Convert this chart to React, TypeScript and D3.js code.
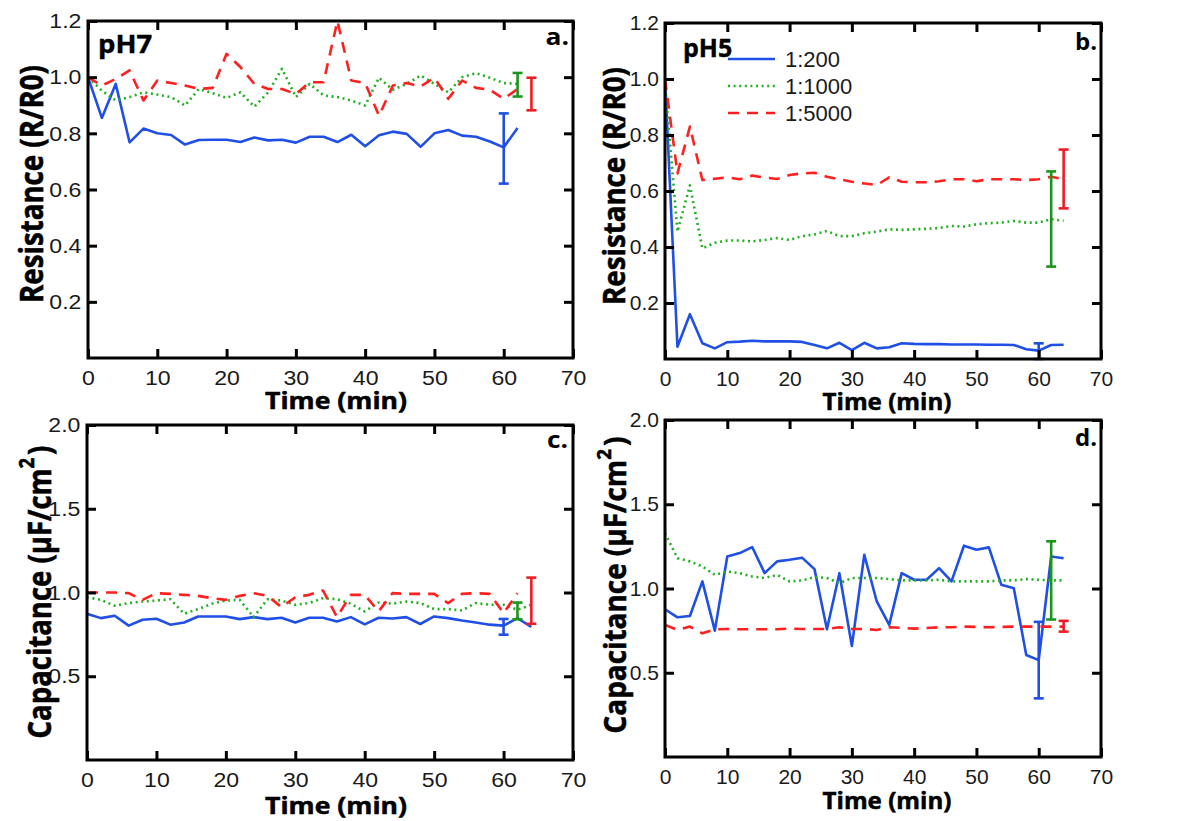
import React, { useEffect, useRef } from "react";
import * as d3 from "d3";

// sampling times (min)
const timesTo62 = [0, 2, 4, 6, 8, 10, 12, 14, 16, 18, 20, 22, 24, 26, 28, 30, 32, 34, 36, 38, 40, 42, 44, 46, 48, 50, 52, 54, 56, 58, 60, 62];
const timesTo64 = [0, 2, 4, 6, 8, 10, 12, 14, 16, 18, 20, 22, 24, 26, 28, 30, 32, 34, 36, 38, 40, 42, 44, 46, 48, 50, 52, 54, 56, 58, 60, 62, 64];

const seriesNames = ["1:200", "1:1000", "1:5000"];
const xTicks = [0, 10, 20, 30, 40, 50, 60, 70];
const resistanceTicks = [0.2, 0.4, 0.6, 0.8, 1.0, 1.2];
const capacitanceTicks = [0.5, 1.0, 1.5, 2.0];

// a. pH7 resistance (R/R0)
const resPH7_200 = [1.0, 0.855, 0.976, 0.768, 0.817, 0.8, 0.794, 0.76, 0.776, 0.777, 0.777, 0.769, 0.785, 0.775, 0.777, 0.767, 0.788, 0.788, 0.769, 0.795, 0.754, 0.793, 0.806, 0.798, 0.752, 0.8, 0.812, 0.792, 0.788, 0.771, 0.75, 0.819];
const resPH7_1000 = [1.0, 0.952, 0.917, 0.929, 0.946, 0.938, 0.929, 0.899, 0.958, 0.943, 0.926, 0.946, 0.895, 0.946, 1.03, 0.929, 0.976, 0.935, 0.929, 0.917, 0.899, 0.998, 0.955, 0.976, 1.006, 0.976, 0.946, 1.0, 1.014, 0.998, 0.979, 0.976];
const resPH7_5000 = [1.0, 0.97, 0.994, 1.024, 0.917, 0.988, 0.979, 0.97, 0.958, 0.962, 1.083, 1.036, 0.976, 0.958, 0.958, 0.94, 0.982, 0.982, 1.2, 0.988, 0.979, 0.863, 0.97, 0.979, 0.967, 0.998, 0.923, 0.988, 0.962, 0.955, 0.923, 0.958];

// b. pH5 resistance (R/R0)
const resPH5_200 = [1.0, 0.044, 0.16, 0.056, 0.038, 0.06, 0.062, 0.065, 0.063, 0.063, 0.063, 0.061, 0.05, 0.038, 0.058, 0.032, 0.058, 0.038, 0.042, 0.056, 0.054, 0.053, 0.053, 0.052, 0.052, 0.052, 0.051, 0.051, 0.05, 0.035, 0.03, 0.05, 0.051];
const resPH5_1000 = [0.985, 0.455, 0.62, 0.395, 0.415, 0.423, 0.423, 0.42, 0.425, 0.432, 0.425, 0.439, 0.445, 0.457, 0.439, 0.439, 0.449, 0.455, 0.463, 0.461, 0.463, 0.465, 0.468, 0.475, 0.473, 0.481, 0.485, 0.487, 0.493, 0.487, 0.487, 0.499, 0.494];
const resPH5_5000 = [1.0, 0.663, 0.83, 0.639, 0.644, 0.649, 0.642, 0.655, 0.648, 0.643, 0.657, 0.663, 0.665, 0.651, 0.642, 0.633, 0.627, 0.621, 0.649, 0.633, 0.631, 0.631, 0.635, 0.642, 0.642, 0.635, 0.642, 0.642, 0.642, 0.639, 0.642, 0.651, 0.642];

// c. pH7 capacitance (uF/cm2)
const capPH7_200 = [0.873, 0.847, 0.861, 0.802, 0.837, 0.843, 0.808, 0.821, 0.857, 0.857, 0.857, 0.841, 0.853, 0.841, 0.849, 0.821, 0.849, 0.849, 0.827, 0.853, 0.81, 0.849, 0.845, 0.853, 0.812, 0.857, 0.847, 0.833, 0.821, 0.808, 0.802, 0.847, 0.794];
const capPH7_1000 = [0.972, 0.956, 0.921, 0.937, 0.946, 0.952, 0.96, 0.873, 0.901, 0.933, 0.952, 0.956, 0.853, 0.96, 0.952, 0.927, 0.937, 0.966, 0.96, 0.933, 0.887, 0.94, 0.933, 0.946, 0.937, 0.901, 0.901, 0.893, 0.937, 0.927, 0.927, 0.897, 0.927];
const capPH7_5000 = [1.0, 1.0, 1.0, 0.996, 0.956, 0.996, 0.992, 0.986, 0.98, 0.966, 0.956, 0.98, 0.996, 0.98, 0.913, 0.972, 0.986, 1.012, 0.853, 0.986, 0.986, 0.887, 0.996, 0.992, 0.992, 0.992, 0.937, 0.992, 0.996, 0.992, 0.877, 0.996];

// d. pH5 capacitance (uF/cm2)
const capPH5_200 = [0.877, 0.829, 0.837, 1.042, 0.75, 1.19, 1.21, 1.246, 1.091, 1.161, 1.171, 1.183, 1.115, 0.758, 1.091, 0.659, 1.2, 0.923, 0.784, 1.091, 1.052, 1.052, 1.121, 1.042, 1.254, 1.23, 1.244, 1.022, 1.002, 0.605, 0.575, 1.19, 1.18];
const capPH5_1000 = [1.329, 1.18, 1.161, 1.131, 1.081, 1.101, 1.091, 1.071, 1.062, 1.081, 1.042, 1.048, 1.067, 1.062, 1.032, 1.062, 1.062, 1.062, 1.056, 1.048, 1.048, 1.048, 1.052, 1.042, 1.042, 1.042, 1.042, 1.048, 1.048, 1.056, 1.052, 1.048, 1.048];
const capPH5_5000 = [0.784, 0.754, 0.774, 0.734, 0.758, 0.76, 0.758, 0.758, 0.758, 0.758, 0.762, 0.76, 0.76, 0.76, 0.77, 0.76, 0.76, 0.754, 0.77, 0.766, 0.762, 0.766, 0.77, 0.77, 0.774, 0.772, 0.77, 0.772, 0.774, 0.774, 0.774, 0.774, 0.774];

// error bars, drawn at offset times so they don't overlap
const errTimes = [60, 62, 64];
const errMeanA = [0.746, 0.973, 0.94];
const errSdA = [0.125, 0.042, 0.058];
const errMeanB = [0.028, 0.5, 0.643];
const errSdB = [0.028, 0.17, 0.105];
const errMeanC = [0.795, 0.89, 0.951];
const errSdC = [0.047, 0.05, 0.138];
const errMeanD = [0.575, 1.048, 0.776];
const errSdD = [0.227, 0.232, 0.032];

const lineColors = ["#1f4fe6", "#22b022", "#ff1f1f"];
const errColors = ["#1f4fe6", "#1a961a", "#ee1c25"];
const dashes = [null, "2,3.6", "11,8"];

const NUM_FONT = "'Liberation Sans', Arial, sans-serif";
const BOLD_FONT = "'Open Sans', sans-serif";

const panels = [
	{
		box: { left: 88, right: 573, top: 21, bottom: 358 }, yMax: 1.2, yTicks: resistanceTicks, sx: 1.1,
		series: [[timesTo62, resPH7_200], [timesTo62, resPH7_1000], [timesTo62, resPH7_5000]],
		errMean: errMeanA, errSd: errSdA, letter: "a.", letterPos: [569, 45], tag: "pH7", tagPos: [98, 53],
		ylabel: "res", yTitle: { x: 43, y: 184, len: 238 }, xTitle: { x: 336, y: 409, len: 142 },
	},
	{
		box: { left: 665, right: 1101, top: 23, bottom: 359 }, yMax: 1.2, yTicks: resistanceTicks, sx: 1.0,
		series: [[timesTo64, resPH5_200], [timesTo64, resPH5_1000], [timesTo64, resPH5_5000]],
		errMean: errMeanB, errSd: errSdB, letter: "b.", letterPos: [1097, 50], tag: "pH5", tagPos: [683, 57],
		ylabel: "res", yTitle: { x: 625, y: 186, len: 238 }, xTitle: { x: 887, y: 410, len: 129 },
	},
	{
		box: { left: 87, right: 573, top: 425, bottom: 760 }, yMax: 2.0, yTicks: capacitanceTicks, sx: 1.1,
		series: [[timesTo64, capPH7_200], [timesTo64, capPH7_1000], [timesTo62, capPH7_5000]],
		errMean: errMeanC, errSd: errSdC, letter: "c.", letterPos: [568, 448], tag: null, tagPos: null,
		ylabel: "cap", yTitle: { x: 51, y: 592, len: 290 }, xTitle: { x: 336, y: 814, len: 142 },
	},
	{
		box: { left: 665, right: 1101, top: 420, bottom: 757 }, yMax: 2.0, yTicks: capacitanceTicks, sx: 1.0,
		series: [[timesTo64, capPH5_200], [timesTo64, capPH5_1000], [timesTo64, capPH5_5000]],
		errMean: errMeanD, errSd: errSdD, letter: "d.", letterPos: [1097, 446], tag: null, tagPos: null,
		ylabel: "cap", yTitle: { x: 626, y: 585, len: 294 }, xTitle: { x: 887, y: 809, len: 129 },
	},
];

const styleAxis = (sel, sx) => {
	sel.select(".domain").remove();
	sel.selectAll(".tick line").attr("stroke", "#000").attr("stroke-width", 3);
	sel.selectAll(".tick text")
		.attr("font-family", NUM_FONT)
		.attr("font-size", 21)
		.attr("fill", "#1a1a1a")
		.attr("transform", `scale(${sx},1)`);
};

const drawPanel = (svg, p, i) => {
	const { left, right, top, bottom } = p.box;
	const x = d3.scaleLinear().domain([0, 70]).range([left, right]);
	const y = d3.scaleLinear().domain([0, p.yMax]).range([bottom, top]);
	const g = svg.append("g");

	const clipId = `clip-${i}`;
	g.append("clipPath").attr("id", clipId)
		.append("rect").attr("x", left).attr("y", top).attr("width", right - left).attr("height", bottom - top);

	// data lines
	p.series.forEach(([times, values], k) => {
		const line = d3.line().x((d, j) => x(times[j])).y((d) => y(d));
		g.append("path")
			.datum(values)
			.attr("d", line)
			.attr("fill", "none")
			.attr("stroke", lineColors[k])
			.attr("stroke-width", 2.6)
			.attr("stroke-dasharray", dashes[k])
			.attr("stroke-linejoin", "round")
			.attr("clip-path", `url(#${clipId})`);
	});

	// error bars
	p.errMean.forEach((m, k) => {
		const cx = x(errTimes[k]);
		const y1 = y(m + p.errSd[k]);
		const y2 = y(m - p.errSd[k]);
		const eb = g.append("g").attr("stroke", errColors[k]).attr("stroke-width", 2.6);
		eb.append("line").attr("x1", cx).attr("x2", cx).attr("y1", y1).attr("y2", y2);
		eb.append("line").attr("x1", cx - 5).attr("x2", cx + 5).attr("y1", y1).attr("y2", y1);
		eb.append("line").attr("x1", cx - 5).attr("x2", cx + 5).attr("y1", y2).attr("y2", y2);
	});

	// axes, ticks point inward on all four sides
	g.append("g").attr("transform", `translate(0,${bottom})`)
		.call(d3.axisBottom(x).tickValues(xTicks).tickSize(-9).tickPadding(12).tickFormat(d3.format("d")))
		.call((s) => styleAxis(s, p.sx));
	g.append("g").attr("transform", `translate(0,${top})`)
		.call(d3.axisTop(x).tickValues(xTicks).tickSize(-9).tickFormat(() => ""))
		.call((s) => styleAxis(s, p.sx));
	g.append("g").attr("transform", `translate(${left},0)`)
		.call(d3.axisLeft(y).tickValues(p.yTicks).tickSize(-9).tickPadding(6).tickFormat(d3.format(".1f")))
		.call((s) => styleAxis(s, p.sx));
	g.append("g").attr("transform", `translate(${right},0)`)
		.call(d3.axisRight(y).tickValues(p.yTicks).tickSize(-9).tickFormat(() => ""))
		.call((s) => styleAxis(s, p.sx));

	g.append("rect")
		.attr("x", left).attr("y", top).attr("width", right - left).attr("height", bottom - top)
		.attr("fill", "none").attr("stroke", "#000").attr("stroke-width", 3);

	// panel letter and pH tag
	g.append("text")
		.attr("transform", `translate(${p.letterPos[0]},${p.letterPos[1]}) scale(${p.sx},1)`)
		.attr("text-anchor", "end")
		.attr("font-family", BOLD_FONT).attr("font-weight", 700).attr("font-size", 24)
		.text(p.letter);
	if (p.tag) {
		g.append("text")
			.attr("transform", `translate(${p.tagPos[0]},${p.tagPos[1]}) scale(${p.sx},1)`)
			.attr("font-family", BOLD_FONT).attr("font-weight", 700).attr("font-size", 25)
			.attr("stroke", "#000").attr("stroke-width", 0.4)
			.text(p.tag);
	}

	// x title
	const xt = g.append("text")
		.attr("text-anchor", "middle")
		.attr("font-family", BOLD_FONT).attr("font-weight", 700).attr("font-size", 23)
		.attr("stroke", "#000").attr("stroke-width", 0.5)
		.text("Time (min)");
	const xk = p.xTitle.len / xt.node().getComputedTextLength();
	xt.attr("transform", `translate(${p.xTitle.x},${p.xTitle.y}) scale(${xk},1)`);

	// y title
	const yt = g.append("text")
		.attr("text-anchor", "middle")
		.attr("font-family", BOLD_FONT).attr("font-weight", 700).attr("font-size", 27)
		.attr("stroke", "#000").attr("stroke-width", 0.5);
	if (p.ylabel === "res") {
		yt.text("Resistance (R/R0)");
	} else {
		yt.append("tspan").text("Capacitance (\u00b5F/cm");
		yt.append("tspan").attr("font-size", 18).attr("dy", -14).text("2");
		yt.append("tspan").attr("dx", 3).attr("dy", 14).text(")");
	}
	const yk = p.yTitle.len / yt.node().getComputedTextLength();
	yt.attr("transform", `translate(${p.yTitle.x},${p.yTitle.y}) scale(${p.sx * 1.1},1) rotate(-90) scale(${yk},1)`);
};

const drawLegend = (svg) => {
	const rows = [59, 86, 113];
	const g = svg.append("g");
	seriesNames.forEach((name, k) => {
		g.append("line")
			.attr("x1", 728).attr("x2", 775).attr("y1", rows[k]).attr("y2", rows[k])
			.attr("stroke", lineColors[k]).attr("stroke-width", 2.6)
			.attr("stroke-dasharray", dashes[k]);
		g.append("text")
			.attr("x", 785).attr("y", rows[k] + 8)
			.attr("font-family", NUM_FONT).attr("font-size", 22).attr("fill", "#1a1a1a")
			.text(name);
	});
};

const App = () => {
	const ref = useRef(null);

	useEffect(() => {
		const svg = d3.select(ref.current);
		svg.selectAll("*").remove();
		panels.forEach((p, i) => drawPanel(svg, p, i));
		drawLegend(svg);
	}, []);

	return (
		<svg
			ref={ref}
			width={1181}
			height={821}
			style={{ position: "absolute", left: 0, top: 0, background: "#fff", display: "block" }}
		></svg>
	);
};

export default App;
